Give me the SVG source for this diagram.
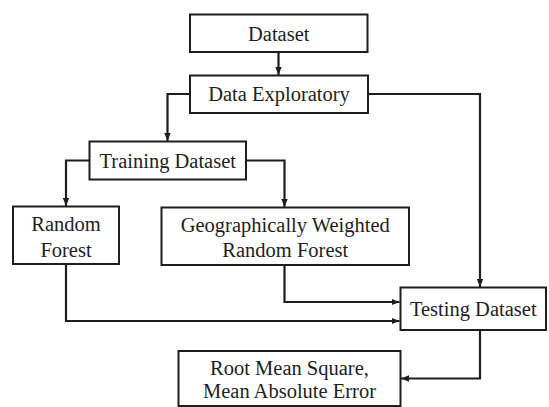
<svg xmlns="http://www.w3.org/2000/svg" width="549" height="407" viewBox="0 0 549 407">
  <style>
    .box { fill: #ffffff; stroke: #1e1e1e; stroke-width: 2; }
    .lbl { font-family: "Liberation Serif", "Times New Roman", serif; font-size: 20.5px; fill: #1e1e1e; text-anchor: middle; }
    .edge { fill: none; stroke: #1e1e1e; stroke-width: 2.2; marker-end: url(#arrow); }
  </style>
  <defs>
    <marker id="arrow" markerUnits="userSpaceOnUse" markerWidth="8" markerHeight="8" viewBox="0 0 8 8" refX="8" refY="4" orient="auto">
      <path d="M0,0.8 L8,4 L0,7.2 Z" fill="#1e1e1e"/>
    </marker>
  </defs>
  <rect width="549" height="407" fill="#ffffff"/>

  <g id="connectors">
    <path class="edge" d="M278.5,52 V75"/>
    <path class="edge" d="M190,94 H167.5 V141"/>
    <path class="edge" d="M368,94 H480 V287"/>
    <path class="edge" d="M89.5,160.5 H66 V206"/>
    <path class="edge" d="M246,160.5 H284.5 V207"/>
    <path class="edge" d="M284.5,265 V302 H399.5"/>
    <path class="edge" d="M66,264 V321 H399.5"/>
    <path class="edge" d="M480,330 V378.5 H401"/>
  </g>

  <g id="dataset">
    <rect class="box" x="190" y="14.5" width="177.5" height="37.5"/>
    <text class="lbl" x="278.75" y="40.5">Dataset</text>
  </g>
  <g id="data-exploratory">
    <rect class="box" x="190" y="75.5" width="178" height="37.5"/>
    <text class="lbl" x="279" y="101">Data Exploratory</text>
  </g>
  <g id="training-dataset">
    <rect class="box" x="89.5" y="141.5" width="156.5" height="38"/>
    <text class="lbl" x="167.75" y="167.5">Training Dataset</text>
  </g>
  <g id="random-forest">
    <rect class="box" x="13" y="206.5" width="106" height="57.5"/>
    <text class="lbl" x="66" y="231">Random</text>
    <text class="lbl" x="66" y="256.5">Forest</text>
  </g>
  <g id="gw-random-forest">
    <rect class="box" x="161.5" y="207.5" width="247.5" height="57.5"/>
    <text class="lbl" x="285.25" y="231.5">Geographically Weighted</text>
    <text class="lbl" x="285.25" y="257">Random Forest</text>
  </g>
  <g id="testing-dataset">
    <rect class="box" x="400.5" y="287.5" width="145.5" height="42.5"/>
    <text class="lbl" x="473.25" y="316">Testing Dataset</text>
  </g>
  <g id="error-metrics">
    <rect class="box" x="178.5" y="351" width="222" height="55"/>
    <text class="lbl" x="289.5" y="375">Root Mean Square,</text>
    <text class="lbl" x="289.5" y="398">Mean Absolute Error</text>
  </g>
</svg>
